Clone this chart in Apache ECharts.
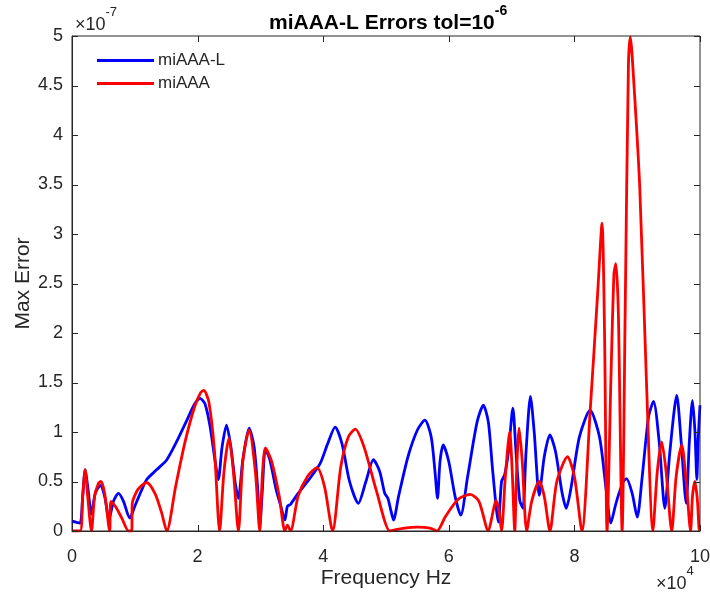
<!DOCTYPE html>
<html>
<head>
<meta charset="utf-8">
<script src="https://cdn.jsdelivr.net/npm/echarts@6/dist/echarts.min.js"></script>
<style>html,body{margin:0;padding:0;background:#fff}#c{width:710px;height:595px}</style>
</head>
<body>
<div id="c"></div>
<script>
// x in units of 1e4 Hz, y in units of 1e-7
const xTicks = [0, 2, 4, 6, 8, 10];
const yTicks = [0, 0.5, 1, 1.5, 2, 2.5, 3, 3.5, 4, 4.5, 5];
const seriesNames = ['miAAA-L', 'miAAA'];

const miAAAL = [
 [0,0.10],[0.06,0.09],[0.13,0.08],[0.17,0.35],[0.21,0.62],[0.25,0.45],[0.31,0.17],[0.37,0.38],[0.45,0.46],[0.52,0.35],
 [0.59,0.12],[0.66,0.30],[0.74,0.38],[0.82,0.30],[0.92,0.13],[1.0,0.25],[1.1,0.40],[1.19,0.52],[1.35,0.62],[1.51,0.72],
 [1.68,0.92],[1.83,1.12],[1.95,1.28],[2.04,1.34],[2.12,1.28],[2.2,1.05],[2.28,0.70],[2.33,0.52],[2.39,0.85],[2.46,1.07],
 [2.53,0.85],[2.6,0.48],[2.65,0.33],[2.72,0.72],[2.82,1.04],[2.9,0.85],[2.96,0.40],[2.99,0.05],[3.03,0.40],[3.08,0.83],
 [3.15,0.72],[3.25,0.42],[3.33,0.24],[3.39,0.11],[3.43,0.25],[3.48,0.27],[3.6,0.38],[3.75,0.50],[3.95,0.68],[4.07,0.88],
 [4.19,1.05],[4.3,0.88],[4.42,0.50],[4.56,0.28],[4.68,0.50],[4.8,0.72],[4.9,0.60],[4.98,0.38],[5.03,0.33],[5.08,0.20],
 [5.12,0.11],[5.2,0.35],[5.35,0.75],[5.5,1.02],[5.62,1.12],[5.72,0.95],[5.78,0.60],[5.82,0.33],[5.86,0.70],[5.91,0.87],
 [6.0,0.70],[6.1,0.35],[6.19,0.16],[6.3,0.55],[6.45,1.10],[6.55,1.27],[6.63,1.10],[6.7,0.60],[6.79,0.09],[6.84,0.50],
 [6.89,0.57],[6.95,0.80],[7.02,1.24],[7.07,0.80],[7.13,0.31],[7.18,0.23],[7.23,0.80],[7.3,1.36],[7.36,1.00],[7.44,0.36],
 [7.52,0.75],[7.61,0.97],[7.7,0.80],[7.8,0.40],[7.87,0.23],[7.95,0.45],[8.08,0.95],[8.25,1.22],[8.4,0.95],[8.5,0.45],
 [8.58,0.08],[8.65,0.25],[8.7,0.36],[8.78,0.50],[8.83,0.53],[8.92,0.38],[9.0,0.14],[9.08,0.55],[9.18,1.15],[9.26,1.31],
 [9.35,0.90],[9.44,0.23],[9.52,0.80],[9.63,1.37],[9.7,0.90],[9.78,0.28],[9.83,0.90],[9.88,1.32],[9.92,1.00],[9.95,0.52],
 [9.97,0.90],[10.0,1.27]
];

const miAAA = [
 [0,0],[0.13,0],[0.17,0.35],[0.21,0.62],[0.25,0.35],[0.31,0],[0.36,0.35],[0.42,0.48],[0.46,0.50],[0.52,0.38],
 [0.60,0],[0.62,0.30],[0.7,0.24],[0.8,0.12],[0.9,0],[0.95,0],[0.96,0.28],[1.05,0.42],[1.19,0.49],[1.32,0.38],
 [1.42,0.20],[1.51,0],[1.65,0.45],[1.8,0.90],[1.95,1.25],[2.05,1.40],[2.1,1.42],[2.18,1.30],[2.27,0.80],[2.35,0],
 [2.42,0.60],[2.50,0.94],[2.57,0.60],[2.65,0],[2.72,0.70],[2.82,1.02],[2.92,0.60],[2.99,0],[3.03,0.55],[3.08,0.84],
 [3.18,0.70],[3.3,0.35],[3.39,0],[3.43,0.06],[3.48,0],[3.6,0.35],[3.75,0.55],[3.90,0.64],[4.02,0.45],[4.15,0],
 [4.28,0.65],[4.4,0.95],[4.51,1.03],[4.65,0.85],[4.85,0.40],[5.06,0],[5.12,0.01],[5.3,0.03],[5.5,0.04],[5.7,0.03],
 [5.81,0],[5.95,0.15],[6.15,0.32],[6.34,0.37],[6.48,0.30],[6.63,0],[6.68,0.12],[6.75,0.31],[6.8,0.20],[6.84,0],
 [6.9,0.55],[6.97,1.00],[7.01,0.60],[7.05,0],[7.08,0.60],[7.12,1.04],[7.17,0.70],[7.24,0],[7.32,0.30],[7.44,0.50],
 [7.52,0.35],[7.61,0],[7.72,0.50],[7.89,0.75],[8.0,0.55],[8.12,0],[8.25,1.20],[8.37,2.40],[8.44,3.11],[8.48,2.00],
 [8.52,0],[8.58,1.50],[8.63,2.60],[8.66,2.70],[8.7,2.20],[8.76,0],[8.81,2.30],[8.86,4.70],[8.89,4.99],[8.92,4.80],
 [9.04,3.48],[9.15,1.46],[9.25,0],[9.32,0.60],[9.39,0.90],[9.46,0.60],[9.55,0],[9.62,0.55],[9.71,0.87],[9.78,0.50],
 [9.85,0],[9.88,0.35],[9.92,0.50],[9.96,0.30],[9.99,0],[10,0]
];

const axisColor = '#262626';
const fontFamily = 'Liberation Sans, Arial, Helvetica, sans-serif';
const chart = echarts.init(document.getElementById('c'), null, {renderer: 'canvas'});

const textGraphics = [
  {id: 'title', type: 'text', left: 269, top: 4, style: {
    text: '{b|miAAA-L Errors tol=10}{s|-6}',
    rich: {b: {fontSize: 21, fontWeight: 'bold', fontFamily: fontFamily, fill: '#000', lineHeight: 30, verticalAlign: 'bottom'},
           s: {fontSize: 14, fontWeight: 'bold', fontFamily: fontFamily, fill: '#000', lineHeight: 30, verticalAlign: 'top'}}
  }},
  {id: 'yexp', type: 'text', left: 75, top: 6, style: {
    text: '{b|×10}{s|-7}',
    rich: {b: {fontSize: 18, fontFamily: fontFamily, fill: axisColor, lineHeight: 28, verticalAlign: 'bottom'},
           s: {fontSize: 13, fontFamily: fontFamily, fill: axisColor, lineHeight: 28, verticalAlign: 'top'}}
  }},
  {id: 'xexp', type: 'text', left: 656, top: 565, style: {
    text: '{b|×10}{s|4}',
    rich: {b: {fontSize: 18, fontFamily: fontFamily, fill: axisColor, lineHeight: 28, verticalAlign: 'bottom'},
           s: {fontSize: 13, fontFamily: fontFamily, fill: axisColor, lineHeight: 28, verticalAlign: 'top'}}
  }}
];

chart.setOption({
  animation: false,
  backgroundColor: '#fff',
  textStyle: {fontFamily: fontFamily},
  grid: {left: 72, right: 10, top: 36, bottom: 64, containLabel: false, outerBoundsMode: 'none'},
  legend: {
    data: seriesNames, orient: 'vertical', left: 97, top: 52, padding: 0, itemWidth: 57, itemHeight: 3,
    itemGap: 6, icon: 'rect', textStyle: {fontSize: 17, color: axisColor, fontFamily: fontFamily, padding: [0,0,0,-1]}
  },
  xAxis: {type: 'value', min: 0, max: 10, interval: 2,
     axisLine: {show: true, onZero: false, lineStyle: {color: axisColor, width: 1}},
     axisTick: {show: false},
     axisLabel: {color: axisColor, fontSize: 18, margin: 17, fontFamily: fontFamily},
     splitLine: {show: false},
     name: 'Frequency Hz', nameLocation: 'middle', nameGap: 37, nameMoveOverlap: false,
     nameTextStyle: {fontSize: 21, color: axisColor, fontFamily: fontFamily}},
  yAxis: {type: 'value', min: 0, max: 5, interval: 0.5,
     axisLine: {show: true, onZero: false, lineStyle: {color: axisColor, width: 1}},
     axisTick: {show: false},
     axisLabel: {color: axisColor, fontSize: 18, margin: 9, fontFamily: fontFamily},
     splitLine: {show: false},
     name: 'Max Error', nameLocation: 'middle', nameGap: 38, nameRotate: 90, nameMoveOverlap: false,
     nameTextStyle: {fontSize: 21, color: axisColor, fontFamily: fontFamily}},
  graphic: textGraphics,
  series: [
    {name: seriesNames[0], type: 'line', data: miAAAL, showSymbol: false,
     smooth: 0.25, lineStyle: {color: '#0000ff', width: 2.8}, itemStyle: {color: '#0000ff'}, z: 2},
    {name: seriesNames[1], type: 'line', data: miAAA, showSymbol: false,
     smooth: 0.25, lineStyle: {color: '#ff0000', width: 2.8}, itemStyle: {color: '#ff0000'}, z: 3}
  ]
});

// axes box and inward ticks on all four sides (MATLAB style)
const p0 = chart.convertToPixel({gridIndex: 0}, [0, 0]);
const p1 = chart.convertToPixel({gridIndex: 0}, [10, 5]);
const L = p0[0], B = p0[1], R = p1[0], T = p1[1];
const tl = 6;
const extra = [];
extra.push({id: 'box', type: 'rect', shape: {x: L, y: T, width: R - L, height: B - T}, z: 10,
  style: {fill: null, stroke: axisColor, lineWidth: 1}, silent: true});
xTicks.forEach((v, i) => {
  const px = Math.round(chart.convertToPixel({gridIndex: 0}, [v, 0])[0]) + 0.5;
  extra.push({id: 'xb' + i, type: 'line', z: 10, shape: {x1: px, y1: B, x2: px, y2: B - tl}, style: {stroke: axisColor, lineWidth: 1}});
  extra.push({id: 'xt' + i, type: 'line', z: 10, shape: {x1: px, y1: T, x2: px, y2: T + tl}, style: {stroke: axisColor, lineWidth: 1}});
});
yTicks.forEach((v, i) => {
  const py = Math.round(chart.convertToPixel({gridIndex: 0}, [0, v])[1]) + 0.5;
  extra.push({id: 'yl' + i, type: 'line', z: 10, shape: {x1: L, y1: py, x2: L + tl, y2: py}, style: {stroke: axisColor, lineWidth: 1}});
  extra.push({id: 'yr' + i, type: 'line', z: 10, shape: {x1: R, y1: py, x2: R - tl, y2: py}, style: {stroke: axisColor, lineWidth: 1}});
});
chart.setOption({graphic: textGraphics.concat(extra)});
</script>
</body>
</html>
